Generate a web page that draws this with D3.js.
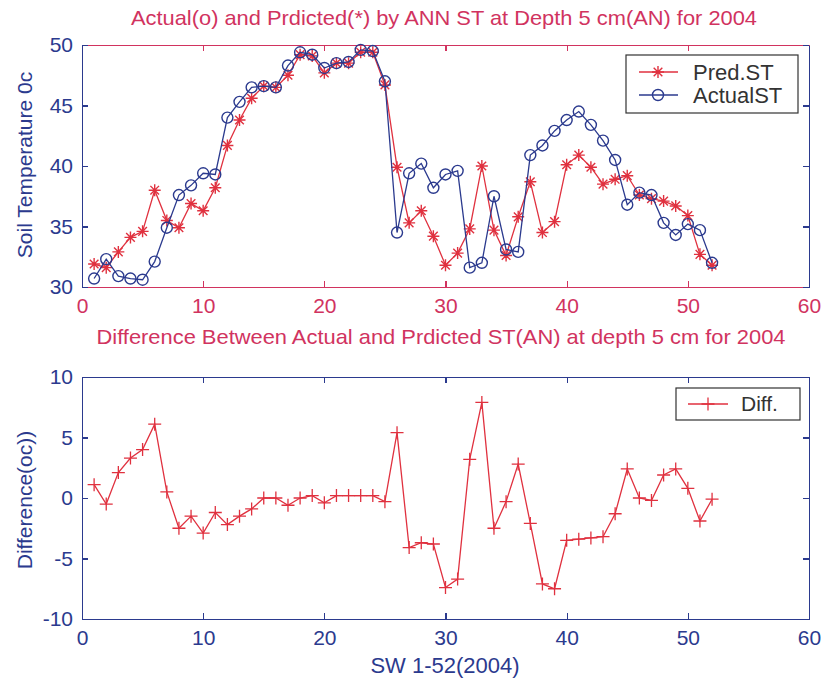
<!DOCTYPE html>
<html>
<meta charset="utf-8">
<head>
<title>Soil temperature ANN 2004</title>
<script src="https://cdn.jsdelivr.net/npm/d3@7"></script>
<style>
body { margin: 0; background: #fff; }
text { font-family: "Liberation Sans", Arial, sans-serif; }
.axis path, .axis line { fill: none; shape-rendering: crispEdges; }
</style>
</head>
<body>
<div id="grafico"></div>
<script>
// semanas 1-52
var weeks = [1,2,3,4,5,6,7,8,9,10,11,12,13,14,15,16,17,18,19,20,21,22,23,24,25,26,
             27,28,29,30,31,32,33,34,35,36,37,38,39,40,41,42,43,44,45,46,47,48,49,50,51,52];

var predST = [31.9,31.6,32.9,34.1,34.6,38.0,35.5,34.9,36.9,36.3,38.2,41.7,43.8,45.6,46.6,46.5,
              47.5,49.2,49.1,47.7,48.5,48.5,49.4,49.4,46.7,39.9,35.3,36.3,34.2,31.8,32.8,34.8,
              40.0,34.7,32.6,35.8,38.7,34.5,35.4,40.1,40.9,39.9,38.5,38.9,39.2,37.6,37.3,37.1,
              36.7,35.9,32.7,31.8];

var actualST = [30.7,32.3,30.9,30.7,30.6,32.1,34.9,37.6,38.4,39.4,39.3,44.0,45.3,46.5,46.6,46.5,
                48.3,49.4,49.2,48.1,48.5,48.6,49.6,49.5,47.0,34.5,39.4,40.2,38.2,39.3,39.6,31.6,
                32.0,37.5,33.1,32.9,40.9,41.7,42.9,43.8,44.5,43.4,42.1,40.5,36.8,37.8,37.6,35.3,
                34.3,35.2,34.7,32.0];

var diffST = [1.1,-0.5,2.1,3.3,4.0,6.1,0.5,-2.5,-1.5,-2.9,-1.2,-2.2,-1.5,-0.9,0.0,0.0,
              -0.6,0.0,0.2,-0.4,0.2,0.2,0.2,0.2,-0.3,5.4,-4.1,-3.7,-3.8,-7.4,-6.7,3.2,
              7.9,-2.5,-0.3,2.8,-2.1,-7.1,-7.5,-3.5,-3.4,-3.3,-3.2,-1.3,2.4,0.0,-0.2,1.9,
              2.4,0.8,-1.9,-0.1];

var xTicks = [0,10,20,30,40,50,60];
var yTicksTop = [30,35,40,45,50];
var yTicksBottom = [-10,-5,0,5,10];

var azul = "#2b3a8e",
    rojo = "#e0313f",
    carmesi = "#d1335f",
    gris = "#333";

var svg = d3.select("#grafico").append("svg")
    .attr("width", 824)
    .attr("height", 683);

var x = d3.scaleLinear().domain([0, 60]).range([82, 809]);
var yTop = d3.scaleLinear().domain([30, 50]).range([287, 45]);
var yBot = d3.scaleLinear().domain([-10, 10]).range([619, 377]);

var fmt = function(d) { return String(d); }; // guion normal, como matlab

// marcadores
function estrella(g, cx, cy, s, color) {
    var d = s * 0.72;
    g.append("path")
        .attr("d", "M" + (cx - s) + "," + cy + "H" + (cx + s) +
                   "M" + cx + "," + (cy - s) + "V" + (cy + s) +
                   "M" + (cx - d) + "," + (cy - d) + "L" + (cx + d) + "," + (cy + d) +
                   "M" + (cx - d) + "," + (cy + d) + "L" + (cx + d) + "," + (cy - d))
        .attr("stroke", color).attr("stroke-width", 1.4).attr("fill", "none");
}
function cruz(g, cx, cy, s, color) {
    g.append("path")
        .attr("d", "M" + (cx - s) + "," + cy + "H" + (cx + s) +
                   "M" + cx + "," + (cy - s) + "V" + (cy + s))
        .attr("stroke", color).attr("stroke-width", 1.3).attr("fill", "none");
}
function circulo(g, cx, cy, r, color) {
    g.append("circle").attr("cx", cx).attr("cy", cy).attr("r", r)
        .attr("stroke", color).attr("stroke-width", 1.4).attr("fill", "none");
}

function ejes(y, ticks, colorX, colorY, top, bottom) {
    var gx = svg.append("g").attr("class", "x axis")
        .attr("transform", "translate(0," + bottom + ")")
        .call(d3.axisBottom(x).tickValues(xTicks).tickFormat(fmt).tickSizeInner(-6).tickSizeOuter(0).tickPadding(11));
    gx.selectAll("line, path").attr("stroke", colorX);
    gx.selectAll("text").attr("fill", colorX).style("font-size", "21px");

    var gt = svg.append("g").attr("class", "x axis")
        .attr("transform", "translate(0," + top + ")")
        .call(d3.axisTop(x).tickValues(xTicks).tickSizeInner(-6).tickSizeOuter(0).tickFormat(""));
    gt.selectAll("line, path").attr("stroke", colorX);

    var gy = svg.append("g").attr("class", "y axis")
        .attr("transform", "translate(82,0)")
        .call(d3.axisLeft(y).tickValues(ticks).tickFormat(fmt).tickSizeInner(-6).tickSizeOuter(0).tickPadding(9));
    gy.selectAll("line, path").attr("stroke", colorY);
    gy.selectAll("text").attr("fill", colorY).style("font-size", "21px");

    var gr = svg.append("g").attr("class", "y axis")
        .attr("transform", "translate(809,0)")
        .call(d3.axisRight(y).tickValues(ticks).tickSizeInner(-6).tickSizeOuter(0).tickFormat(""));
    gr.selectAll("line, path").attr("stroke", colorY);
    svg.selectAll(".axis line").attr("stroke-width", 1.2);
}

// ---------- grafico superior ----------
ejes(yTop, yTicksTop, carmesi, azul, 45, 287);

var linea = d3.line().x(function(d, i) { return x(weeks[i]); });

var gPred = svg.append("g");
gPred.append("path")
    .datum(predST)
    .attr("d", linea.y(function(d) { return yTop(d); }))
    .attr("fill", "none").attr("stroke", rojo).attr("stroke-width", 1.3);
predST.forEach(function(v, i) { estrella(gPred, x(weeks[i]), yTop(v), 6, rojo); });

var gAct = svg.append("g");
gAct.append("path")
    .datum(actualST)
    .attr("d", linea.y(function(d) { return yTop(d); }))
    .attr("fill", "none").attr("stroke", azul).attr("stroke-width", 1.3);
actualST.forEach(function(v, i) { circulo(gAct, x(weeks[i]), yTop(v), 5.5, azul); });

// leyenda superior
var ley = svg.append("g");
ley.append("rect").attr("x", 626).attr("y", 55).attr("width", 172).attr("height", 58)
    .attr("fill", "#fff").attr("stroke", gris).attr("stroke-width", 1.2);
ley.append("line").attr("x1", 639).attr("x2", 678).attr("y1", 72).attr("y2", 72)
    .attr("stroke", rojo).attr("stroke-width", 1.3);
estrella(ley, 658, 72, 6, rojo);
ley.append("line").attr("x1", 639).attr("x2", 678).attr("y1", 95).attr("y2", 95)
    .attr("stroke", azul).attr("stroke-width", 1.3);
circulo(ley, 658, 95, 5.5, azul);
ley.append("text").attr("x", 693).attr("y", 80).text("Pred.ST")
    .attr("fill", gris).style("font-size", "22px");
ley.append("text").attr("x", 693).attr("y", 103).text("ActualST")
    .attr("fill", gris).style("font-size", "22px");

// ---------- grafico inferior ----------
ejes(yBot, yTicksBottom, azul, azul, 377, 619);

var gDif = svg.append("g");
gDif.append("path")
    .datum(diffST)
    .attr("d", linea.y(function(d) { return yBot(d); }))
    .attr("fill", "none").attr("stroke", rojo).attr("stroke-width", 1.3);
diffST.forEach(function(v, i) { cruz(gDif, x(weeks[i]), yBot(v), 6.5, rojo); });

var ley2 = svg.append("g");
ley2.append("rect").attr("x", 676).attr("y", 388).attr("width", 124).attr("height", 32)
    .attr("fill", "#fff").attr("stroke", gris).attr("stroke-width", 1.2);
ley2.append("line").attr("x1", 688).attr("x2", 728).attr("y1", 404).attr("y2", 404)
    .attr("stroke", rojo).attr("stroke-width", 1.3);
cruz(ley2, 708, 404, 6.5, rojo);
ley2.append("text").attr("x", 741).attr("y", 411).text("Diff.")
    .attr("fill", gris).style("font-size", "21px");

// ---------- titulos ----------
svg.append("text").attr("x", 444).attr("y", 25).attr("text-anchor", "middle")
    .attr("fill", carmesi).style("font-size", "21px")
    .attr("textLength", 626).attr("lengthAdjust", "spacingAndGlyphs")
    .text("Actual(o) and Prdicted(*) by ANN ST at Depth 5 cm(AN)  for 2004");
svg.append("text").attr("x", 441).attr("y", 344).attr("text-anchor", "middle")
    .attr("fill", carmesi).style("font-size", "21px")
    .attr("textLength", 689).attr("lengthAdjust", "spacingAndGlyphs")
    .text("Difference Between Actual and Prdicted ST(AN) at depth 5 cm for 2004");
svg.append("text").attr("x", 445).attr("y", 673).attr("text-anchor", "middle")
    .attr("fill", azul).style("font-size", "22px")
    .text("SW 1-52(2004)");
svg.append("text").attr("transform", "translate(32,165) rotate(-90)").attr("text-anchor", "middle")
    .attr("fill", azul).style("font-size", "21px")
    .text("Soil Temperature 0c");
svg.append("text").attr("transform", "translate(32,500) rotate(-90)").attr("text-anchor", "middle")
    .attr("fill", azul).style("font-size", "21px")
    .text("Difference(oc))");
</script>
</body>
</html>
